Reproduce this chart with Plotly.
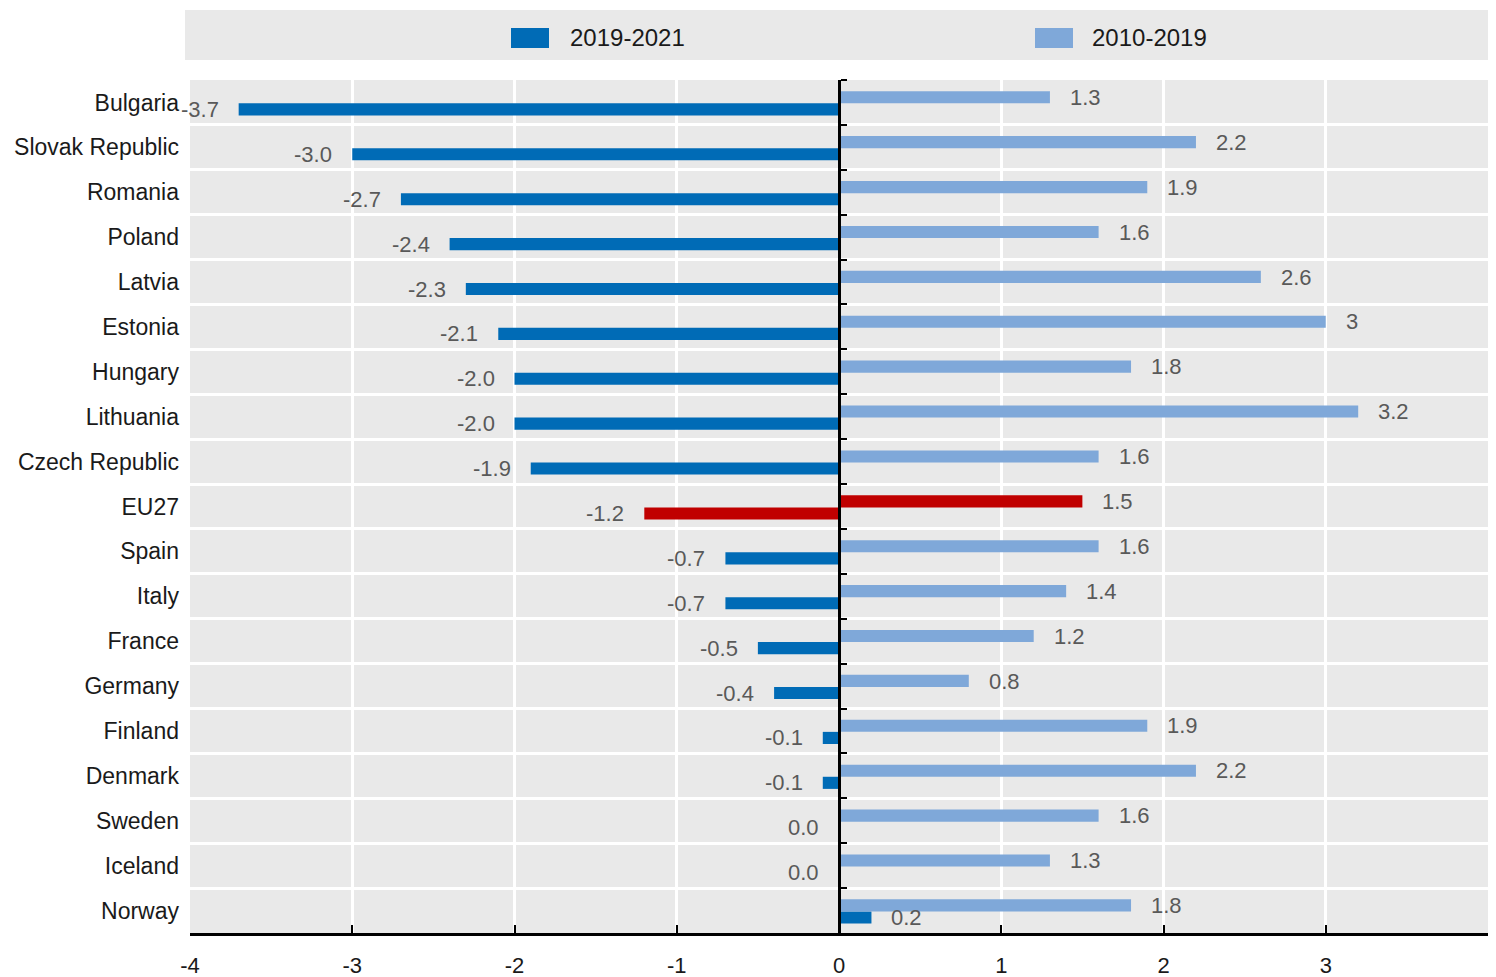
import plotly.graph_objects as go

# ── data ──────────────────────────────────────────────────────────────────────
countries = [
    "Bulgaria", "Slovak Republic", "Romania", "Poland", "Latvia", "Estonia",
    "Hungary", "Lithuania", "Czech Republic", "EU27", "Spain", "Italy",
    "France", "Germany", "Finland", "Denmark", "Sweden", "Iceland", "Norway",
]
change_2019_2021 = [-3.7, -3.0, -2.7, -2.4, -2.3, -2.1, -2.0, -2.0, -1.9, -1.2,
                    -0.7, -0.7, -0.5, -0.4, -0.1, -0.1, 0.0, 0.0, 0.2]
labels_2019_2021 = ["-3.7", "-3.0", "-2.7", "-2.4", "-2.3", "-2.1", "-2.0", "-2.0",
                    "-1.9", "-1.2", "-0.7", "-0.7", "-0.5", "-0.4", "-0.1", "-0.1",
                    "0.0", "0.0", "0.2"]
change_2010_2019 = [1.3, 2.2, 1.9, 1.6, 2.6, 3.0, 1.8, 3.2, 1.6, 1.5,
                    1.6, 1.4, 1.2, 0.8, 1.9, 2.2, 1.6, 1.3, 1.8]
labels_2010_2019 = ["1.3", "2.2", "1.9", "1.6", "2.6", "3", "1.8", "3.2", "1.6", "1.5",
                    "1.6", "1.4", "1.2", "0.8", "1.9", "2.2", "1.6", "1.3", "1.8"]
highlight = "EU27"
x_ticks = [-4, -3, -2, -1, 0, 1, 2, 3, 4]
x_tick_text = ["-4", "-3", "-2", "-1", "0", "1", "2", "3", "4"]

# ── style ─────────────────────────────────────────────────────────────────────
DARK = "#006BB6"
LIGHT = "#7FA8D9"
RED = "#C00000"
BG = "#E9E9E9"
FONT = "Liberation Sans, Arial, sans-serif"
# page body has an 8px margin, so the figure sits 8px in from the corner;
# the visible page ends at x=1488
W, H = 1480, 969
ML, MR, MT, MB = 182, 0, 72, 44
BAR_W = 0.27
SHIFT = 0.02


def px_x(px):
    return (px - ML) / (W - ML - MR)


def px_y(py):
    return (H - MB - py) / (H - MT - MB)


dark_colors = [RED if c == highlight else DARK for c in countries]
light_colors = [RED if c == highlight else LIGHT for c in countries]

fig = go.Figure()
fig.add_trace(go.Bar(
    y=countries, x=change_2010_2019, name="2010-2019", orientation="h",
    width=BAR_W, offset=-BAR_W + SHIFT, marker=dict(color=light_colors, line=dict(width=0)),
    yaxis="y2", hoverinfo="x+y",
))
fig.add_trace(go.Bar(
    y=countries, x=change_2019_2021, name="2019-2021", orientation="h",
    width=BAR_W, offset=SHIFT, marker=dict(color=dark_colors, line=dict(width=0)),
    hoverinfo="x+y",
))

# value labels
annotations = []
for c, v, t in zip(countries, change_2019_2021, labels_2019_2021):
    annotations.append(dict(
        x=v, y=c, xref="x", yref="y", text=t, showarrow=False,
        xanchor="left" if v > 0 else "right", xshift=18 if v > 0 else -18, yshift=-7,
        font=dict(size=22, color="#595959", family=FONT),
    ))
for c, v, t in zip(countries, change_2010_2019, labels_2010_2019):
    annotations.append(dict(
        x=v, y=c, xref="x", yref="y", text=t, showarrow=False,
        xanchor="left", xshift=18, yshift=5,
        font=dict(size=22, color="#595959", family=FONT),
    ))

# legend drawn by hand in a grey band above the plot
shapes = [dict(type="rect", xref="paper", yref="paper", layer="below",
               x0=px_x(177), x1=px_x(1480), y0=px_y(52), y1=px_y(2),
               fillcolor=BG, line=dict(width=0))]
for name, color, sx, tx in [("2019-2021", DARK, 503, 560), ("2010-2019", LIGHT, 1027, 1082)]:
    shapes.append(dict(type="rect", xref="paper", yref="paper",
                       x0=px_x(sx), x1=px_x(sx + 38), y0=px_y(40), y1=px_y(20),
                       fillcolor=color, line=dict(width=0)))
    annotations.append(dict(x=px_x(tx), y=px_y(30), xref="paper", yref="paper",
                            text=name, showarrow=False, xanchor="left", yanchor="middle",
                            font=dict(size=24, color="#1a1a1a", family=FONT)))

n = len(countries)
fig.update_layout(
    width=W, height=H,
    margin=dict(l=ML, r=MR, t=MT, b=MB),
    paper_bgcolor="white", plot_bgcolor=BG,
    showlegend=False,
    barmode="overlay",
    font=dict(family=FONT, color="#1a1a1a"),
    xaxis=dict(
        range=[-4, 4], tickvals=x_ticks, ticktext=x_tick_text, automargin=False,
        showgrid=True, gridcolor="white", gridwidth=3,
        zeroline=False, showline=True, linecolor="black", linewidth=2.5,
        ticks="inside", ticklen=8, tickwidth=2, tickcolor="black",
        tickfont=dict(size=22, color="#1a1a1a"), ticklabelstandoff=11,
    ),
    yaxis=dict(
        type="category", categoryarray=countries, categoryorder="array",
        range=[n - 0.5, -0.5], tickson="boundaries", showgrid=True, automargin=False,
        gridcolor="white", gridwidth=3, ticks="", showline=False,
        tickfont=dict(size=23, color="#1a1a1a"), ticklabelstandoff=10,
    ),
    yaxis2=dict(
        type="category", categoryarray=countries, categoryorder="array",
        range=[n - 0.5, -0.5], overlaying="y", anchor="free", position=0.5,
        side="right", tickson="boundaries", showgrid=False, showline=True,
        automargin=False, linecolor="black", linewidth=2.5, ticks="outside",
        ticklen=6, tickwidth=2, tickcolor="black", showticklabels=False,
    ),
    shapes=shapes,
    annotations=annotations,
)

fig.write_html("out.html")
